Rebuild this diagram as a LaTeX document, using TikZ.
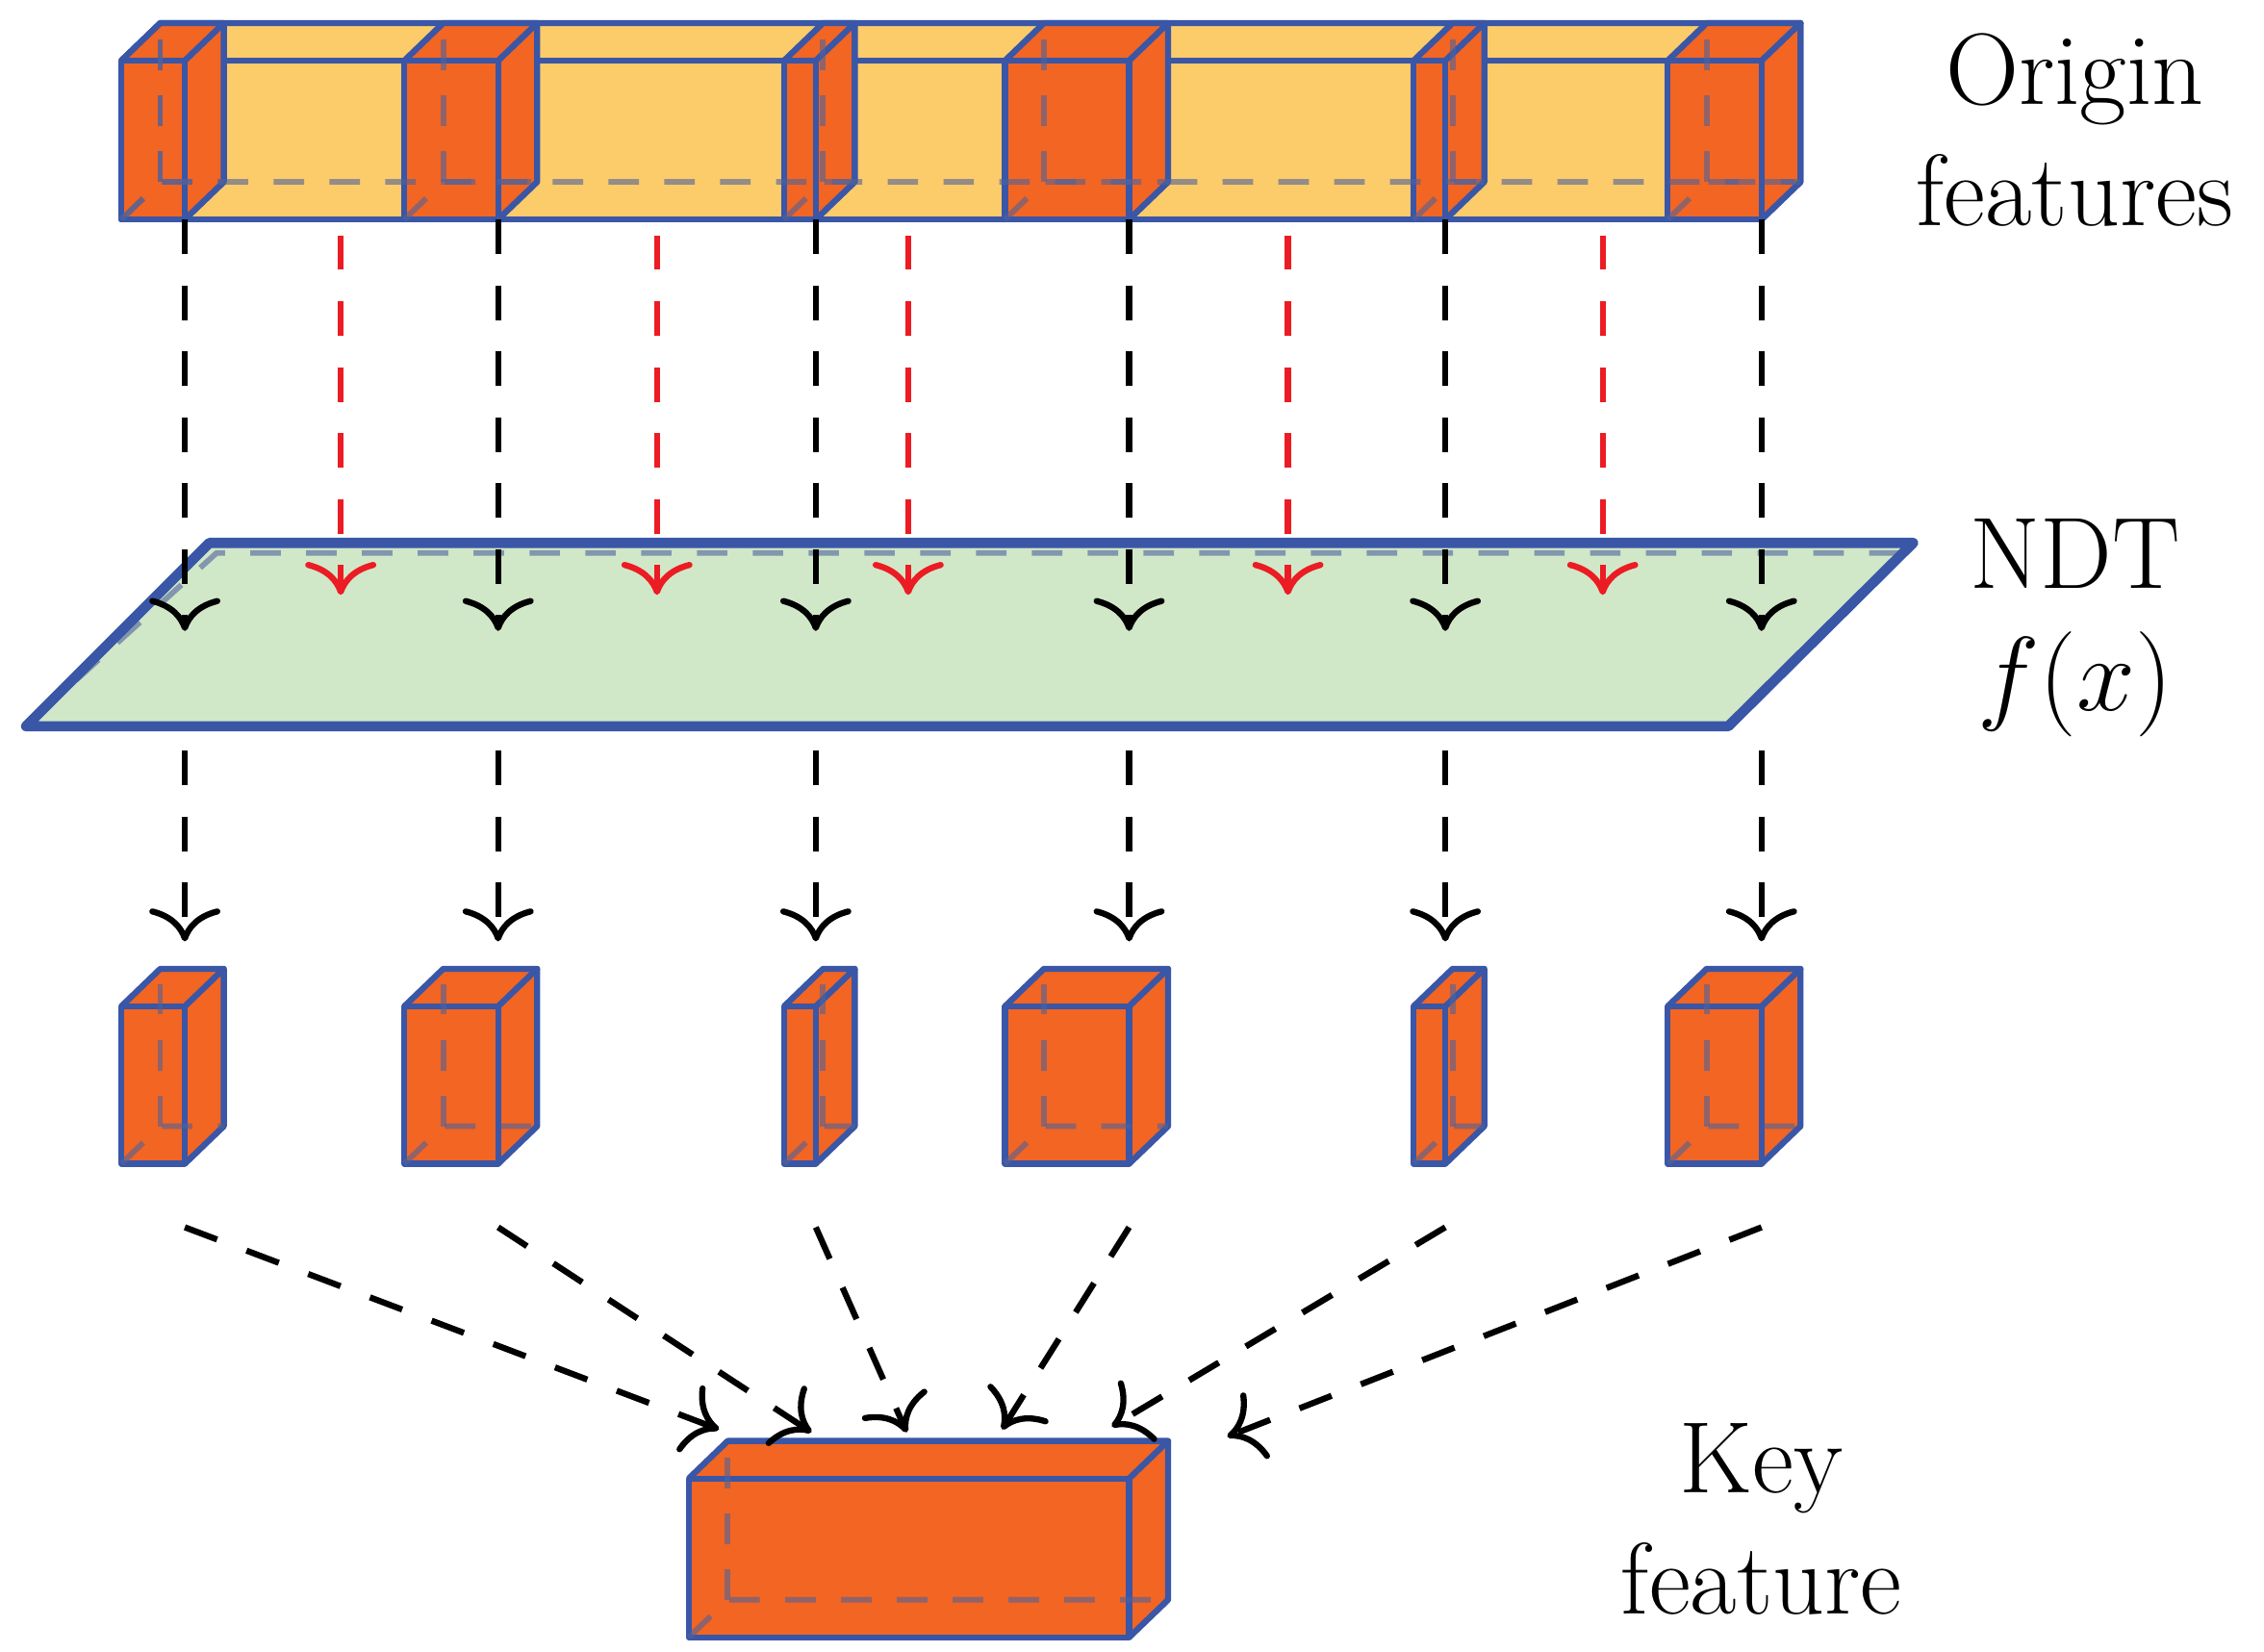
\documentclass[tikz,border=0pt]{standalone}
\usetikzlibrary{arrows.meta}
\definecolor{barcol}{HTML}{FCCB6A}
\definecolor{blockcol}{HTML}{F26522}
\definecolor{edgecol}{HTML}{3A56A6}
\definecolor{ndtcol}{HTML}{D0E8C8}
\definecolor{redcol}{HTML}{EC1C24}
% cuboid: left, front top, width, height, fill
\newcommand{\cuboid}[5]{%
  \fill[#5] (#1,{#2+#4}) -- (#1,#2) -- ({#1+27},{#2-26}) -- ({#1+#3+27},{#2-26})
    -- ({#1+#3+27},{#2+#4-26}) -- ({#1+#3},{#2+#4}) -- cycle;
  \draw[edge] (#1,#2) rectangle ({#1+#3},{#2+#4});
  \draw[edge] (#1,#2) -- ({#1+27},{#2-26}) -- ({#1+#3+27},{#2-26}) -- ({#1+#3},#2);
  \draw[edge] ({#1+#3+27},{#2-26}) -- ({#1+#3+27},{#2+#4-26}) -- ({#1+#3},{#2+#4});}
\newcommand{\hidden}[4]{%
  \draw[hid] (#1,{#2+#4}) -- ({#1+27},{#2+#4-26}) -- ({#1+#3+27},{#2+#4-26});
  \draw[hid] ({#1+27},{#2+#4-26}) -- ({#1+27},{#2-26});}
\begin{document}
\begin{tikzpicture}[x=0.1mm, y=-0.1mm,
    edge/.style ={edgecol, line width=1.2pt, line join=round},
    hid/.style ={edgecol!70!gray, opacity=0.6, line width=1.1pt, dash pattern=on 6pt off 5pt},
    flow/.style ={line width=1.2pt, dash pattern=on 6.8pt off 6.2pt,
      -{Computer Modern Rightarrow[length=6.5pt,width=14pt]}},
    lbl/.style ={font=\fontsize{20}{24}\selectfont, align=center}]
   \useasboundingbox (0,0) rectangle (1568,1144);

   % origin features
   \cuboid{84}{42}{1136}{110}{barcol}
   \foreach \x/\w in {84/44,280/65,543/22,696/86,979/22,1155/65}
     \cuboid{\x}{42}{\w}{110}{blockcol};
   \hidden{84}{42}{1136}{110}
   \foreach \x/\w in {84/44,280/65,543/22,696/86,979/22,1155/65}
     \hidden{\x}{42}{\w}{110};

   % NDT plane
   \fill[ndtcol] (145,376) -- (1325,376) -- (1197,503) -- (18,503) -- cycle;
   \draw[hid] (24,497) -- (150,383) -- (1318,383);
   \draw[edgecol, line width=2pt, line join=round]
     (145,376) -- (1325,376) -- (1197,503) -- (18,503) -- cycle;

   % single features
   \foreach \x/\w in {84/44,280/65,543/22,696/86,979/22,1155/65} {
     \cuboid{\x}{697}{\w}{109}{blockcol}
     \hidden{\x}{697}{\w}{109}
   }

   % key feature
   \cuboid{477}{1024}{305}{110}{blockcol}
   \hidden{477}{1024}{305}{110}

   % arrows
   \foreach \x [count=\i] in {128,345,565,782,1001,1220} {
     \coordinate (t\i) at (\x,152);
     \coordinate (n\i) at (\x,437);
     \coordinate (s\i) at (\x,520);
     \coordinate (b\i) at (\x,652);
     \coordinate (c\i) at (\x,850);
     \draw[flow] (t\i) -- (n\i);
     \draw[flow] (s\i) -- (b\i);
   }
   \foreach \x [count=\i] in {236,455,629,892,1110} {
     \coordinate (r\i) at (\x,163);
     \coordinate (m\i) at (\x,412);
     \draw[flow, redcol] (r\i) -- (m\i);
   }
   \foreach \i/\x/\y in {1/498/990,2/562/992,3/628/992,4/694/990,5/770/988,6/850/995} {
     \coordinate (k\i) at (\x,\y);
     \draw[flow] (c\i) -- (k\i);
   }

   % labels
   \node[lbl] (origin) at (1437,90) {Origin\\features};
   \node[lbl] (ndt) at (1437,435) {NDT\\$f(x)$};
   \node[lbl] (key) at (1220,1052) {Key\\feature};
 \end{tikzpicture}
\end{document}
